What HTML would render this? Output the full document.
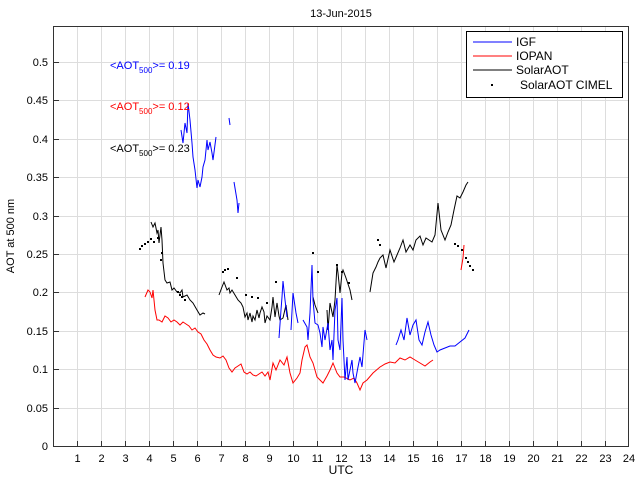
<!DOCTYPE html><html><head><style>body{margin:0;background:#fff}svg{display:block;font-family:"Liberation Sans",sans-serif}</style></head><body>
<svg width="640" height="480" viewBox="0 0 640 480">
<rect width="640" height="480" fill="#fff"/>
<path stroke="#ddd" stroke-width="1" fill="none" d="M77.5 27V446M101.5 27V446M125.5 27V446M149.5 27V446M173.5 27V446M197.5 27V446M221.5 27V446M245.5 27V446M269.5 27V446M293.5 27V446M317.5 27V446M341.5 27V446M365.5 27V446M389.5 27V446M413.5 27V446M437.5 27V446M461.5 27V446M485.5 27V446M509.5 27V446M533.5 27V446M557.5 27V446M581.5 27V446M605.5 27V446M54 408.5H628M54 369.5H628M54 331.5H628M54 292.5H628M54 254.5H628M54 216.5H628M54 177.5H628M54 139.5H628M54 100.5H628M54 62.5H628"/>
<path stroke="#333" stroke-width="1" fill="none" d="M77.5 446V441M101.5 446V441M125.5 446V441M149.5 446V441M173.5 446V441M197.5 446V441M221.5 446V441M245.5 446V441M269.5 446V441M293.5 446V441M317.5 446V441M341.5 446V441M365.5 446V441M389.5 446V441M413.5 446V441M437.5 446V441M461.5 446V441M485.5 446V441M509.5 446V441M533.5 446V441M557.5 446V441M581.5 446V441M605.5 446V441M54 408.5H59M54 369.5H59M54 331.5H59M54 292.5H59M54 254.5H59M54 216.5H59M54 177.5H59M54 139.5H59M54 100.5H59M54 62.5H59"/>
<rect x="53.5" y="26.5" width="575" height="420" fill="none" stroke="#333"/>
<text x="341" y="17" font-size="11" text-anchor="middle">13-Jun-2015</text>
<text x="341" y="474" font-size="12" text-anchor="middle">UTC</text>
<text transform="translate(14,236) rotate(-90)" font-size="11" text-anchor="middle">AOT at 500 nm</text>
<g font-size="11" text-anchor="middle">
<text x="77.5" y="462">1</text><text x="101.5" y="462">2</text><text x="125.5" y="462">3</text><text x="149.5" y="462">4</text><text x="173.5" y="462">5</text><text x="197.5" y="462">6</text><text x="221.5" y="462">7</text><text x="245.5" y="462">8</text><text x="269.5" y="462">9</text><text x="293.5" y="462">10</text><text x="317.5" y="462">11</text><text x="341.5" y="462">12</text><text x="365.5" y="462">13</text><text x="389.5" y="462">14</text><text x="413.5" y="462">15</text><text x="437.5" y="462">16</text><text x="461.5" y="462">17</text><text x="485.5" y="462">18</text><text x="509.5" y="462">19</text><text x="533.5" y="462">20</text><text x="557.5" y="462">21</text><text x="581.5" y="462">22</text><text x="605.5" y="462">23</text><text x="629" y="462">24</text>
</g>
<g font-size="11" text-anchor="end">
<text x="48" y="450">0</text><text x="48" y="412">0.05</text><text x="48" y="373">0.1</text><text x="48" y="335">0.15</text><text x="48" y="296">0.2</text><text x="48" y="258">0.25</text><text x="48" y="220">0.3</text><text x="48" y="181">0.35</text><text x="48" y="143">0.4</text><text x="48" y="104">0.45</text><text x="48" y="66">0.5</text>
</g>
<g fill="none" stroke-width="1">
<polyline stroke="#000" points="151,222 153,227 155,223 157,233 158,230 159,243 161,227 162,240 163,263 165,280 167,283 170,282 172,290 174,288 177,292 180,293 182,290 183,297 187,295 190,300 193,303 197,310 200,315 203,313 205,314"/>
<polyline stroke="#000" points="219,295 222,287 224,282 227,290 229,288 230,293 232,290 235,295 238,300 241,303 243,307 245,317 247,313 248,320 250,313 252,322 253,316 255,320 257,310 259,318 260,313 262,307 264,312 265,323 267,316 270,320 272,307 273,297 275,317 277,303 279,316 280,320 283,318 286,305 288,320"/>
<polyline stroke="#000" points="313,297 315,305 318,313"/>
<polyline stroke="#000" points="327,310 328,330 330,303 333,317 335,300 337,265 338,273 340,293 342,273 343,270 346,278 350,290 352,300"/>
<polyline stroke="#000" points="370,292 373,273 376,267 378,262 380,258 383,255 386,268 390,250 394,262 397,255 400,248 403,240 406,252 410,245 413,250 416,240 420,236 423,245 426,238 429,240 432,242 435,235 438,203 441,230 445,240 448,232 451,225 454,210 457,196 460,198 463,192 466,185 468,182"/>
<polyline stroke="#f00" points="145,297 148,290 150,292 152,298 153,290 155,310 157,320 159,320 162,322 165,316 168,318 171,322 174,320 177,322 180,325 183,322 186,324 189,326 192,330 195,328 198,332 201,334 204,340 207,344 210,350 213,355 216,357 220,358 223,356 226,360 229,368 232,372 235,368 238,366 241,364 244,372 247,374 250,372 253,375 256,376 259,374 262,372 265,376 268,372 270,380 273,363 276,370 280,360 284,365 287,357 290,373 293,383 297,378 300,373 302,360 305,347 307,345 310,357 313,363 317,377 320,380 323,383 327,376 330,370 333,363 337,373 340,377 344,377 350,380 354,378 357,383 360,390 363,383 367,380 373,373 380,367 385,364 390,362 395,363 400,358 405,360 410,357 415,360 420,363 425,366 430,362 433,360"/>
<polyline stroke="#f00" points="461,270 463,258 464,245"/>
<polyline stroke="#00f" points="181,130 183,143 185,123 187,133 188,103 190,120 192,143 193,157 195,170 197,188 198,180 200,187 202,177 203,167 205,160 207,140 208,150 210,142 212,153 213,160 216,137"/>
<polyline stroke="#00f" points="229,118 230,125"/>
<polyline stroke="#00f" points="234,182 237,200 238,213 239,203"/>
<polyline stroke="#00f" points="279,338 281,310 282,297 283,281 285,300 287,317"/>
<polyline stroke="#00f" points="291,330 293,293 296,313 298,323"/>
<polyline stroke="#00f" points="303,320 307,327 308,340 310,313 312,265 313,300 315,323 318,325 320,333 322,347 323,327 325,340 328,323 330,350 332,340 333,360 335,310 337,298 338,340 340,350 342,298 343,340 345,380 347,357 348,380 352,360 353,373 355,383 358,367 360,357 362,367 365,330 367,340"/>
<polyline stroke="#00f" points="396,345 398,340 401,330 404,340 407,318 410,335 413,325 416,320 419,340 422,345 425,332 428,322 431,335 434,345 437,352 440,350 445,348 450,346 455,346 460,342 465,338 469,330"/>
</g>
<path fill="none" stroke="#000" stroke-width="2" d="M139 249h2M141 246h2M144 244h2M147 242h2M150 239h2M153 242h2M157 238h2M161 253h2M160 260h2M177 292h2M179 295h2M181 297h2M184 300h2M222 272h2M224 270h2M227 269h2M236 278h2M245 295h2M251 297h2M257 298h2M266 303h2M275 282h2M312 253h2M317 272h2M336 265h2M341 272h2M348 283h2M377 240h2M379 245h2M454 244h2M457 246h2M461 250h2M465 258h2M467 262h2M469 266h2M472 270h2"/>
<text x="110" y="69" font-size="11" fill="#00f">&lt;AOT<tspan font-size="8" dy="4">500</tspan><tspan dy="-4">&gt;= 0.19</tspan></text>
<text x="110" y="110" font-size="11" fill="#f00">&lt;AOT<tspan font-size="8" dy="4">500</tspan><tspan dy="-4">&gt;= 0.12</tspan></text>
<text x="110" y="152" font-size="11" fill="#000">&lt;AOT<tspan font-size="8" dy="4">500</tspan><tspan dy="-4">&gt;= 0.23</tspan></text>
<rect x="466.5" y="31.5" width="156" height="66" fill="#fff" stroke="#000"/>
<line x1="473" y1="42" x2="512" y2="42" stroke="#00f"/>
<line x1="473" y1="56" x2="512" y2="56" stroke="#f00"/>
<line x1="473" y1="70" x2="512" y2="70" stroke="#000"/>
<rect x="491" y="84" width="2" height="2" fill="#000"/>
<g font-size="12"><text x="516" y="46">IGF</text><text x="516" y="60">IOPAN</text><text x="516" y="74">SolarAOT</text><text x="520" y="89">SolarAOT CIMEL</text></g>
</svg></body></html>
